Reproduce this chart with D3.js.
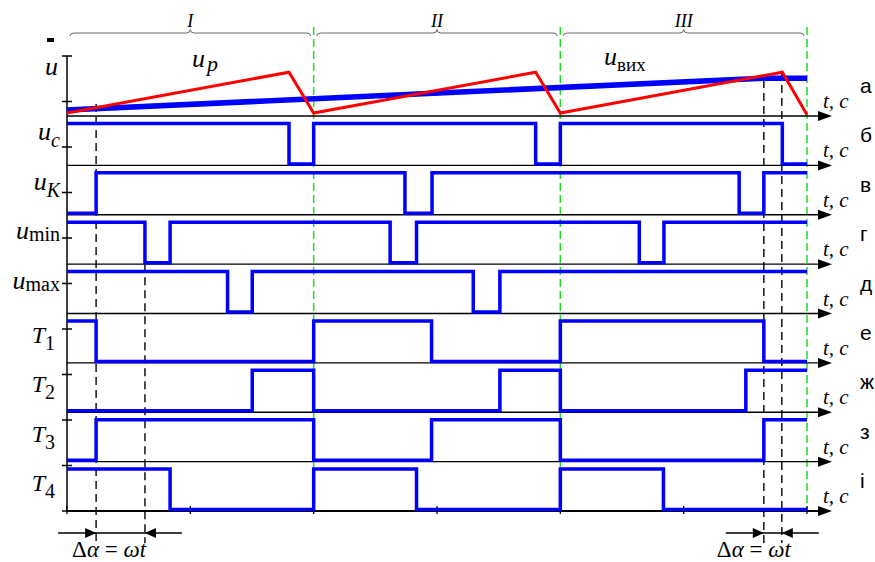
<!DOCTYPE html>
<html>
<head>
<meta charset="utf-8">
<script src="https://cdn.jsdelivr.net/npm/d3@7"></script>
<style>
    body { margin: 0; background: #fff; }
</style>
</head>
<body>
<svg id="chart" width="875" height="562"></svg>
<script>
// periods and row letters
const periods = ['I', 'II', 'III'];
const rowLetters = ['а', 'б', 'в', 'г', 'д', 'е', 'ж', 'з', 'і'];

// u_p (red saw) and u_вих (blue) in relative units
const upTimes = [0, 0.9, 1, 1.9, 2, 2.9, 3];
const upValues = [0.05, 0.73, 0.05, 0.73, 0.05, 0.73, 0.02];
const uoutTimes = [0, 2.825, 3];
const uoutValues = [0.1, 0.63, 0.63];

// digital signals: label, subscript, initial level, switching times (in periods)
const signalNames = ['u', 'u', 'u', 'u', 'T', 'T', 'T', 'T'];
const signalSubs = ['c', 'K', 'min', 'max', '1', '2', '3', '4'];
const signalStart = [1, 0, 1, 1, 1, 0, 0, 1];
const signalEdges = [
    [0.9, 1, 1.9, 2, 2.9],
    [0.118, 1.37, 1.48, 2.725, 2.825],
    [0.316, 0.418, 1.31, 1.417, 2.32, 2.42],
    [0.651, 0.751, 1.647, 1.755],
    [0.118, 1, 1.478, 2, 2.825],
    [0.751, 1, 1.755, 2, 2.752],
    [0.118, 1, 1.478, 2, 2.825],
    [0.418, 1, 1.417, 2, 2.418]
];

// black dashed marks (Δα = ωt)
const markTimes = [0.118, 0.316, 2.825, 2.898];

const serif = "'Liberation Serif', 'Times New Roman', Times, 'DejaVu Serif', serif";
const sans = "'Liberation Sans', Arial, sans-serif";

const svg = d3.select('#chart').attr('font-family', serif);

const x = d3.scaleLinear().domain([0, 3]).range([67, 807]);
const rowY = d3.scaleLinear().domain([0, 8]).range([116, 511]);
const uY = d3.scaleLinear().domain([0, 1]).range([116, 56]);
const level = d3.scaleLinear().domain([0, 1]).range([-1.5, -42]);
const leftTicks = d3.scaleLinear().domain([0, 10]).range([511, 56]);

const blue = '#0000ff';
const green = '#22dd22';

function sText(sel) {
    return sel.attr('font-family', serif).style('font-family', serif);
}

// small mark top-left
svg.append('rect').attr('x', 47).attr('y', 38).attr('width', 7).attr('height', 4).attr('fill', '#000');

// braces + period labels
periods.forEach((p, i) => {
    const xa = x(i) + 3, xb = x(i + 1) - 3, xm = (xa + xb) / 2;
    const y0 = 36, y1 = 33, yp = 29.5;
    svg.append('path')
        .attr('d', `M${xa},${y0} Q${xa},${y1} ${xa + 4},${y1} L${xm - 4},${y1} Q${xm},${y1} ${xm},${yp}
                    Q${xm},${y1} ${xm + 4},${y1} L${xb - 4},${y1} Q${xb},${y1} ${xb},${y0}`)
        .attr('fill', 'none').attr('stroke', '#666').attr('stroke-width', 1);
    sText(svg.append('text'))
        .attr('x', xm).attr('y', 27)
        .attr('text-anchor', 'middle')
        .attr('font-style', 'italic').attr('font-size', 18)
        .text(p);
});

// green period borders
svg.selectAll('line.period')
    .data([1, 2, 3])
    .enter().append('line')
    .attr('class', 'period')
    .attr('x1', d => x(d)).attr('x2', d => x(d))
    .attr('y1', 27).attr('y2', rowY(8))
    .attr('stroke', green).attr('stroke-width', 1.5)
    .attr('stroke-dasharray', '8,4');

// left axis and its ticks
svg.append('line')
    .attr('x1', x(0)).attr('x2', x(0))
    .attr('y1', leftTicks(10)).attr('y2', leftTicks(0))
    .attr('stroke', '#000').attr('stroke-width', 1.5);
svg.selectAll('line.ltick')
    .data(leftTicks.ticks(10))
    .enter().append('line')
    .attr('class', 'ltick')
    .attr('x1', x(0) - 5).attr('x2', x(0) + 5)
    .attr('y1', d => leftTicks(d)).attr('y2', d => leftTicks(d))
    .attr('stroke', '#000').attr('stroke-width', 1.5);

// time axes with arrows
rowLetters.forEach((letter, i) => {
    const y = rowY(i);
    svg.append('line')
        .attr('x1', x(0)).attr('x2', 822)
        .attr('y1', y).attr('y2', y)
        .attr('stroke', '#000').attr('stroke-width', i === 8 ? 2.2 : 1.4);
    svg.append('path')
        .attr('d', `M832,${y} L818,${y - 5} L818,${y + 5} Z`)
        .attr('fill', '#000');
    sText(svg.append('text'))
        .attr('x', 823).attr('y', y - 8)
        .attr('font-style', 'italic').attr('font-size', 21)
        .text('t, c');
    svg.append('text')
        .attr('x', 860).attr('y', y - 23)
        .attr('font-family', sans).style('font-family', sans)
        .attr('font-size', 21)
        .text(letter);
});

// bottom axis half-period ticks
svg.selectAll('line.btick')
    .data(x.ticks(6))
    .enter().append('line')
    .attr('class', 'btick')
    .attr('x1', d => x(d)).attr('x2', d => x(d))
    .attr('y1', rowY(8) - 5).attr('y2', rowY(8) + 3)
    .attr('stroke', '#000').attr('stroke-width', 1.3);

// black dashed marks
const markTops = [uY(0.2), rowY(3), uY(0.6), uY(0.733)];
svg.selectAll('line.mark')
    .data(markTimes)
    .enter().append('line')
    .attr('class', 'mark')
    .attr('x1', d => x(d)).attr('x2', d => x(d))
    .attr('y1', (d, i) => markTops[i]).attr('y2', 543)
    .attr('stroke', '#000').attr('stroke-width', 1.4)
    .attr('stroke-dasharray', '8,5');

// row a: u_вих (blue) and u_p (red)
const uLine = d3.line().x(d => x(d[0])).y(d => uY(d[1]));
svg.append('path')
    .attr('d', uLine(d3.zip(uoutTimes, uoutValues)))
    .attr('fill', 'none').attr('stroke', blue).attr('stroke-width', 5.5);
svg.append('path')
    .attr('d', uLine(d3.zip(upTimes, upValues)))
    .attr('fill', 'none').attr('stroke', '#ff0000').attr('stroke-width', 3)
    .attr('stroke-linejoin', 'miter');

// labels of row a
sText(svg.append('text')).attr('x', 58).attr('y', 75).attr('text-anchor', 'end')
    .attr('font-style', 'italic').attr('font-size', 26).text('u');
const upLabel = sText(svg.append('text')).attr('x', 192).attr('y', 67).attr('font-size', 26);
upLabel.append('tspan').attr('font-style', 'italic').text('u');
upLabel.append('tspan').attr('font-style', 'italic').attr('font-size', 22).attr('dy', 4).attr('dx', 2).text('p');
const uoutLabel = sText(svg.append('text')).attr('x', 604).attr('y', 65).attr('font-size', 26);
uoutLabel.append('tspan').attr('font-style', 'italic').text('u');
uoutLabel.append('tspan').attr('font-size', 19).attr('dy', 6).text('вих');

// digital signals
function stepPoints(start, edges) {
    const pts = [[0, start]];
    let lv = start;
    edges.forEach(e => {
        pts.push([e, lv]);
        lv = 1 - lv;
        pts.push([e, lv]);
    });
    pts.push([3, lv]);
    return pts;
}

signalEdges.forEach((edges, i) => {
    const base = rowY(i + 1);
    const line = d3.line().x(d => x(d[0])).y(d => base + level(d[1]));
    svg.append('path')
        .attr('d', line(stepPoints(signalStart[i], edges)))
        .attr('fill', 'none').attr('stroke', blue).attr('stroke-width', 3.5)
        .attr('stroke-linejoin', 'miter');

    const isT = signalNames[i] === 'T';
    const sub = signalSubs[i];
    const lbl = sText(svg.append('text'))
        .attr('x', isT ? 55 : 60)
        .attr('y', base - (isT ? 20 : 25))
        .attr('text-anchor', 'end')
        .attr('font-size', isT ? 24 : 26);
    lbl.append('tspan').attr('font-style', 'italic').text(signalNames[i]);
    lbl.append('tspan')
        .attr('font-style', (sub === 'c' || sub === 'K') ? 'italic' : 'normal')
        .attr('font-size', 20)
        .attr('dy', sub.length > 1 ? 2 : 7)
        .text(sub);
});

// Δα = ωt annotations
const textDx = [-24, -47];
[[0, 1], [2, 3]].forEach((pair, k) => {
    const xa = x(markTimes[pair[0]]), xb = x(markTimes[pair[1]]);
    const y = 533;
    svg.append('line')
        .attr('x1', xa - 38).attr('x2', xb + 37)
        .attr('y1', y).attr('y2', y)
        .attr('stroke', '#000').attr('stroke-width', 1.3);
    svg.append('path').attr('d', `M${xa},${y} L${xa - 11},${y - 5} L${xa - 11},${y + 5} Z`).attr('fill', '#000');
    svg.append('path').attr('d', `M${xb},${y} L${xb + 11},${y - 5} L${xb + 11},${y + 5} Z`).attr('fill', '#000');
    const t = sText(svg.append('text')).attr('x', xa + textDx[k]).attr('y', 557).attr('font-size', 23);
    t.append('tspan').text('Δ');
    t.append('tspan').attr('font-style', 'italic').text('α');
    t.append('tspan').text(' = ');
    t.append('tspan').attr('font-style', 'italic').text('ω');
    t.append('tspan').attr('font-style', 'italic').text('t');
});
</script>
</body>
</html>
